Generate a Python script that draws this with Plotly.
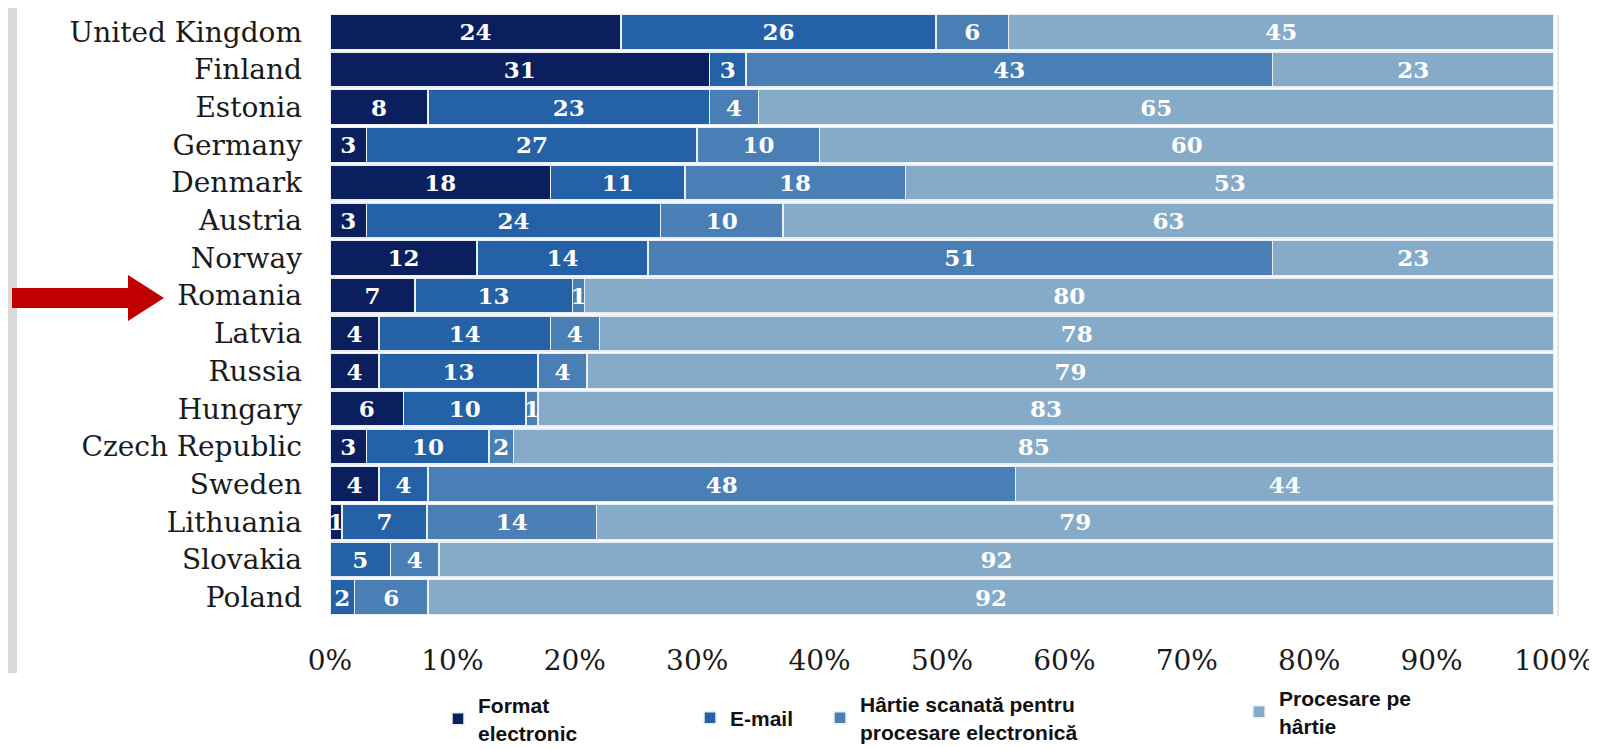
import plotly.graph_objects as go

countries = ["United Kingdom", "Finland", "Estonia", "Germany", "Denmark", "Austria",
             "Norway", "Romania", "Latvia", "Russia", "Hungary", "Czech Republic",
             "Sweden", "Lithuania", "Slovakia", "Poland"]
format_electronic = [24, 31, 8, 3, 18, 3, 12, 7, 4, 4, 6, 3, 4, 1, 0, 0]
email = [26, 3, 23, 27, 11, 24, 14, 13, 14, 13, 10, 10, 4, 7, 5, 2]
hartie_scanata = [6, 43, 4, 10, 18, 10, 51, 1, 4, 4, 1, 2, 48, 14, 4, 6]
procesare_hartie = [45, 23, 65, 60, 53, 63, 23, 80, 78, 79, 83, 85, 44, 79, 92, 92]
x_ticks = [0, 10, 20, 30, 40, 50, 60, 70, 80, 90, 100]

series = [
    ("Format<br>electronic", format_electronic, "#0b1f5f", "legend"),
    ("E-mail", email, "#2461a6", "legend2"),
    ("Hârtie scanată pentru<br>procesare electronică", hartie_scanata, "#4a7fb6", "legend3"),
    ("Procesare pe<br>hârtie", procesare_hartie, "#85abc9", "legend4"),
]

W, H = 1597, 749
L, R, T, B = 322, 51, 5, 141
PW = W - L - R
PH = H - T - B


def px(x):
    return (x - L) / PW


def py(y):
    return (H - B - y) / PH


fig = go.Figure()
for name, vals, color, lg in series:
    fig.add_trace(go.Bar(
        y=countries, x=vals, name=name, orientation="h",
        marker=dict(color=color, line=dict(color="#e9eef4", width=1.5)),
        text=[str(v) for v in vals], textposition="inside",
        insidetextanchor="middle", constraintext="none",
        textfont=dict(family="DejaVu Serif", size=23, color="white", weight="bold"),
        legend=lg, hoverinfo="skip",
    ))

leg_font = dict(family="Liberation Sans", size=21, color="#111111", weight="bold")


def leg(xpx, ypx):
    return dict(x=px(xpx), y=py(ypx), xanchor="left", yanchor="middle",
                orientation="h", bgcolor="rgba(0,0,0,0)", font=leg_font,
                traceorder="normal", itemclick=False)


shapes = [
    # slide background strip on the left
    dict(type="rect", xref="paper", yref="paper", x0=px(-2), x1=px(9),
         y0=py(665), y1=py(0), fillcolor="#d9d9d9", line=dict(width=0), layer="below"),
    # right frame line
    dict(type="line", xref="paper", yref="paper", x0=px(W - R + 4), x1=px(W - R + 4),
         y0=py(H - B), y1=py(T + 2), line=dict(color="#dcdcdc", width=1.5)),
    # red arrow pointing to Romania
    dict(type="path", xref="paper", yref="paper",
         path=(f"M {px(4)},{py(280)} L {px(120)},{py(280)} L {px(120)},{py(267)} "
               f"L {px(156)},{py(290)} L {px(120)},{py(313)} L {px(120)},{py(300)} "
               f"L {px(4)},{py(300)} Z"),
         fillcolor="#c00000", line=dict(width=0)),
]

fig.update_layout(
    width=W, height=H,
    margin=dict(l=L, r=R, t=T, b=B, autoexpand=False),
    barmode="stack", barnorm="percent", bargap=0.07,
    paper_bgcolor="white", plot_bgcolor="white",
    uniformtext=dict(mode="show", minsize=23),
    showlegend=True,
    legend=leg(430, 711),
    legend2=leg(682, 710),
    legend3=leg(812, 710),
    legend4=leg(1231, 704),
    shapes=shapes,
    xaxis=dict(range=[0, 100], tickvals=x_ticks, ticktext=[f"{t}%" for t in x_ticks],
               showgrid=False, zeroline=False, showline=False, automargin=False,
               tickfont=dict(family="DejaVu Serif", size=28, color="#1a1a1a"),
               ticklabelstandoff=25),
    yaxis=dict(categoryorder="array", categoryarray=countries, autorange="reversed",
               showgrid=False, zeroline=False, showline=False, automargin=False,
               tickfont=dict(family="DejaVu Serif", size=28, color="#1a1a1a"),
               ticklabelstandoff=27),
)

fig.write_html("out.html")
